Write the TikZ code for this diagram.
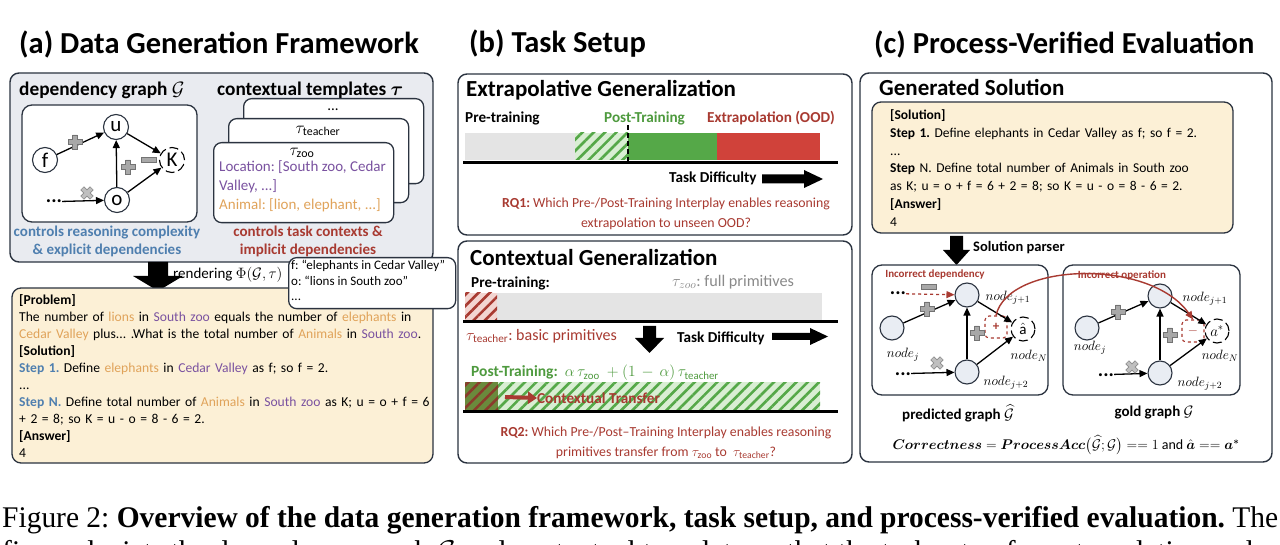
\RequirePackage{fix-cm}
\documentclass[tikz,border=0pt]{standalone}
\usepackage{amsmath,amssymb,bm}
\usepackage{fontspec}
\setmainfont{Carlito}
\newfontfamily\capfont{Liberation Serif}
\usetikzlibrary{arrows.meta,patterns.meta,calc}
\definecolor{frame}{HTML}{2B3340}
\definecolor{panelA}{HTML}{E9EBF0}
\definecolor{cream}{HTML}{FCF0D6}
\definecolor{stepblue}{HTML}{4F7FAF}
\definecolor{purp}{HTML}{7A52A0}
\definecolor{gold}{HTML}{E0A35A}
\definecolor{darkred}{HTML}{A83A31}
\definecolor{grn}{HTML}{55A848}
\definecolor{grntext}{HTML}{4E9A3E}
\definecolor{lightgrn}{HTML}{D9EED3}
\definecolor{barred}{HTML}{D0423A}
\definecolor{bargray}{HTML}{E4E4E4}
\definecolor{lightpink}{HTML}{F3D5D1}
\definecolor{darkolive}{HTML}{6A8A3C}
\definecolor{brownred}{HTML}{8A3B2B}
\definecolor{nodefill}{HTML}{E9EDF3}
\definecolor{signgray}{HTML}{A8A8A8}
\definecolor{graytext}{HTML}{8A8A8A}
\newcommand\fsz[2]{\fontsize{#1}{#2}\selectfont}
\newsavebox\capbox
\tikzset{
  panel/.style={draw=frame, line width=1.4pt, rounded corners=9pt},
  card/.style={draw=frame, fill=white, line width=1.3pt, rounded corners=8pt},
  gnode/.style={circle, draw=frame, line width=1.1pt, minimum size=25pt, inner sep=0pt, font=\fsz{21}{21}},
  cnode/.style={circle, draw=frame, fill=nodefill, line width=1.1pt, minimum size=24pt, inner sep=0pt},
  garrow/.style={-{Triangle[length=8pt,width=7pt]}, line width=1.3pt, black},
  ttl/.style={anchor=west, inner sep=0pt, font=\fsz{30.5}{33}\bfseries},
  sub/.style={anchor=west, inner sep=0pt, font=\fsz{23}{26}\bfseries},
  lbl/.style={inner sep=0pt, font=\fsz{15}{18}\bfseries},
  small/.style={anchor=west, inner sep=0pt, font=\fsz{15.2}{17}\bfseries},
  nlabel/.style={inner sep=0pt, font=\fsz{13.5}{13.5}},
  dots/.style={inner sep=0pt, font=\fsz{20}{20}\bfseries},
  rq/.style={align=center, inner sep=0pt, font=\fsz{13.8}{19.5}, text=darkred},
  opbox/.style={draw=darkred, dashed, line width=1.1pt, rounded corners=4pt, minimum width=22pt, minimum height=22pt, inner sep=0pt, text=darkred, font=\fsz{13}{13}\bfseries},
  plusmark/.pic={\filldraw[fill=signgray,draw=black!55,line width=0.7pt] (-7,-2.3) -- (-2.3,-2.3) -- (-2.3,-7) -- (2.3,-7) -- (2.3,-2.3) -- (7,-2.3) -- (7,2.3) -- (2.3,2.3) -- (2.3,7) -- (-2.3,7) -- (-2.3,2.3) -- (-7,2.3) -- cycle;},
  minusmark/.pic={\filldraw[fill=signgray,draw=black!55,line width=0.7pt] (-7.5,-2.6) rectangle (7.5,2.6);},
  crossmark/.pic={\filldraw[rotate=45,fill=black!25,draw=black!45,line width=0.6pt] (-6.5,-2.2) -- (-2.2,-2.2) -- (-2.2,-6.5) -- (2.2,-6.5) -- (2.2,-2.2) -- (6.5,-2.2) -- (6.5,2.2) -- (2.2,2.2) -- (2.2,6.5) -- (-2.2,6.5) -- (-2.2,2.2) -- (-6.5,2.2) -- cycle;},
}
\begin{document}
\frenchspacing
\sbox\capbox{\capfont\fsz{30}{34}Figure 2: \textbf{Overview of the data generation framework, task setup, and process-verified evaluation.} The}%
\pgfmathsetmacro\capsx{1276/\the\wd\capbox}%
\begin{tikzpicture}[x=1pt,y=-1pt]
\useasboundingbox (0,0) rectangle (1280,545);
\fill[white] (0,0) rectangle (1280,545);

% ---------------- titles
\node[ttl] (tA) at (19,44) {(a) Data Generation Framework};
\node[ttl] (tB) at (469,44) {(b) Task Setup};
\node[ttl] (tC) at (874,44) {(c) Process-Verified Evaluation};

% ================= PANEL A
\draw[panel, fill=panelA] (10,73) rectangle (433,262);
\node[anchor=west, inner sep=0pt, font=\fsz{19.3}{22}\bfseries] (dgT) at (19,90) {dependency graph $\mathcal{G}$};
\node[anchor=west, inner sep=0pt, font=\fsz{19.3}{22}\bfseries] (ctT) at (217,90) {contextual templates $\boldsymbol{\tau}$};
\draw[card, rounded corners=10pt] (22,105) rectangle (197,222);

\node[gnode] (f) at (45,160) {f};
\node[gnode] (u) at (116,127) {u};
\node[gnode, draw=none] (K) at (172,160) {K};
\draw[line width=1.1pt, dash pattern=on 9pt off 4pt] (K) circle (12.5pt);
\node[gnode] (o) at (117,200) {o};
\node[dots, anchor=base] (dA) at (54,203) {...};
\draw[garrow] (f) -- (u);
\draw[garrow] (u) -- (K);
\draw[garrow] (o) -- (u);
\draw[garrow] (o) -- (K);
\draw[garrow] (dA) -- (o);
\pic at (75,142) {plusmark};
\pic at (128,167) {plusmark};
\pic at (149,160) {minusmark};
\pic at (87,193) {crossmark};

% template cards
\node[card, anchor=north west, minimum width=180pt, minimum height=85pt] (card3) at (243,98) {};
\node[card, anchor=north west, minimum width=180pt, minimum height=84pt] (card2) at (228,118) {};
\node[card, anchor=north west, minimum width=180pt, minimum height=80pt] (card1) at (213,142) {};
\node[inner sep=0pt, font=\fsz{15}{15}] (c3t) at (333,110) {...};
\node[inner sep=0pt, font=\fsz{17}{17}] (c2t) at (318,131) {$\tau_{\mathrm{teacher}}$};
\node[inner sep=0pt, font=\fsz{17}{17}] (c1t) at (302,153) {$\tau_{\mathrm{zoo}}$};
\node[anchor=north west, inner sep=0pt, align=left, font=\fsz{15}{19}] (c1txt) at (219,160) {\textcolor{purp}{Location: [South zoo, Cedar}\\\textcolor{purp}{Valley, ...]}\\\textcolor{gold}{Animal: [lion, elephant, ...]}};

\node[lbl, text=stepblue, align=center] (ctrlA) at (107,241) {controls reasoning complexity\\\& explicit dependencies};
\node[lbl, text=darkred, align=center] (ctrlB) at (308,241) {controls task contexts \&\\implicit dependencies};

% render arrow
\fill[black] (148,262) -- (168,262) -- (168,276) -- (183,276) -- (158,291) -- (133,276) -- (148,276) -- cycle;
\node[anchor=west, inner sep=0pt, font=\fsz{15}{15}] (rend) at (173,275) {rendering $\Phi(\mathcal{G},\tau)$};

% problem box
\draw[draw=frame, fill=cream, line width=1.3pt, rounded corners=9pt] (12,288) rectangle (433,463);
\node[anchor=north west, inner sep=0pt, align=left, text width=420pt, font=\fsz{13.6}{17}] (probtxt) at (19,294) {%
\textbf{[Problem]}\\
The number of \textcolor{gold}{lions} in \textcolor{purp}{South zoo} equals the number of \textcolor{gold}{elephants} in\\
\textcolor{gold}{Cedar Valley} plus... .What is the total number of \textcolor{gold}{Animals} in \textcolor{purp}{South zoo}.\\
\textbf{[Solution]}\\
\textcolor{stepblue}{\textbf{Step 1.}} Define \textcolor{gold}{elephants} in \textcolor{purp}{Cedar Valley} as f; so f = 2.\\
...\\
\textcolor{stepblue}{\textbf{Step N.}} Define total number of \textcolor{gold}{Animals} in \textcolor{purp}{South zoo} as K; u = o + f = 6\\
+ 2 = 8; so K = u - o = 8 - 6 = 2.\\
\textbf{[Answer]}\\
4};

% mapping box
\node[card, anchor=north west, minimum width=167pt, minimum height=51pt] (mapbox) at (288,257) {};
\node[anchor=north west, inner sep=0pt, align=left, font=\fsz{13}{15.5}] (maptxt) at (291,260) {f: ``elephants in Cedar Valley''\\o: ``lions in South zoo''\\...};

% ================= PANEL B
\draw[panel] (458,74) rectangle (852,235);
\node[sub] (extT) at (466,90) {Extrapolative Generalization};
\node[small] (preT) at (465,118) {Pre-training};
\node[small, text=grntext] (postT) at (604,118) {Post-Training};
\node[small, anchor=east, text=darkred] (oodT) at (835,118) {Extrapolation (OOD)};
\fill[bargray] (465,133) rectangle (575,160);
\fill[lightgrn] (575,133) rectangle (628,160);
\fill[pattern={Lines[angle=45,distance=8pt,line width=2.6pt]}, pattern color=grn] (575,133) rectangle (628,160);
\fill[grn] (628,133) rectangle (717,160);
\fill[barred] (717,133) rectangle (820,160);
\draw[line width=2.6pt, dash pattern=on 5pt off 3pt] (628,125) -- (628,161);
\draw[line width=3pt] (463,163) -- (838,163);
\node[small] (td1) at (669,178) {Task Difficulty};
\fill[black] (762,174.5) -- (804,174.5) -- (804,170) -- (823,179) -- (804,188) -- (804,183.5) -- (762,183.5) -- cycle;
\node[rq] (rq1) at (666,214) {\textbf{RQ1:} Which Pre-/Post-Training Interplay enables reasoning\\extrapolation to unseen OOD?};

\draw[panel] (458,241) rectangle (852,463);
\node[sub] (ctxT) at (470,257) {Contextual Generalization};
\node[small] (preT2) at (471,283) {Pre-training:};
\node[anchor=west, inner sep=0pt, font=\fsz{16.2}{17}, text=graytext] (zooT) at (672,282) {$\tau_{zoo}$: full primitives};
\fill[bargray] (465,293) rectangle (822,320);
\fill[lightpink] (465,293) rectangle (497,320);
\fill[pattern={Lines[angle=45,distance=8pt,line width=2.6pt]}, pattern color=darkred] (465,293) rectangle (497,320);
\draw[line width=3pt] (463,322) -- (838,322);
\node[anchor=west, inner sep=0pt, font=\fsz{16}{17}, text=darkred] (teachT) at (466,336) {$\tau_{\mathrm{teacher}}$: basic primitives};
\fill[black] (643,326) -- (656,326) -- (656,338) -- (664,338) -- (649.5,353) -- (635,338) -- (643,338) -- cycle;
\node[small] (td2) at (677,338) {Task Difficulty};
\fill[black] (772,333) -- (810,333) -- (810,328) -- (828,336.5) -- (810,345) -- (810,340) -- (772,340) -- cycle;
\node[anchor=west, inner sep=0pt, font=\fsz{15.5}{17}, text=grntext] (postT2) at (471,373) {\textbf{Post-Training:} \ $\alpha\,\tau_{\mathrm{zoo}}\ +(1\,-\,\alpha)\,\tau_{\mathrm{teacher}}$};
\fill[lightgrn] (465,382) rectangle (820,410);
\fill[pattern={Lines[angle=45,distance=8pt,line width=2.6pt]}, pattern color=grn] (465,382) rectangle (820,410);
\fill[darkolive] (465,382) rectangle (498,410);
\fill[pattern={Lines[angle=45,distance=8pt,line width=2.6pt]}, pattern color=brownred] (465,382) rectangle (498,410);
\draw[line width=3pt] (463,411) -- (838,411);
\node[small, text=darkred] (ctr) at (537,398) {Contextual Transfer};
\coordinate (ctrS) at (505,397);
\draw[darkred, line width=4pt, -{Triangle[length=9pt,width=12pt]}] (ctrS) -- (ctr.west);
\node[rq] (rq2) at (666,443) {\textbf{RQ2:} Which Pre-/Post--Training Interplay enables reasoning\\primitives transfer from $\tau_{\mathrm{zoo}}$ to \ $\tau_{\mathrm{teacher}}$?};

% ================= PANEL C
\draw[panel] (860,73) rectangle (1272,462);
\node[sub] (genT) at (879,88) {Generated Solution};
\draw[draw=frame, fill=cream, line width=1.3pt, rounded corners=9pt] (872,102) rectangle (1233,233);
\node[anchor=north west, inner sep=0pt, align=left, text width=340pt, font=\fsz{13.5}{17.8}] (soltxt) at (890,109.5) {%
\textbf{[Solution]}\\
\textbf{Step 1.} Define elephants in Cedar Valley as f; so f = 2.\\
...\\
\textbf{Step} N. Define total number of Animals in South zoo\\
as K; u = o + f = 6 + 2 = 8; so K = u - o = 8 - 6 = 2.\\
\textbf{[Answer]}\\
4};
\fill[black] (950,236) -- (963,236) -- (963,250) -- (970,250) -- (956.5,265) -- (943,250) -- (950,250) -- cycle;
\node[anchor=west, inner sep=0pt, font=\fsz{14.5}{16}\bfseries] (parser) at (973,248) {Solution parser};

% predicted graph
\draw[card, rounded corners=10pt] (872,265) rectangle (1048,395);
\node[inner sep=0pt, font=\fsz{11}{12}\bfseries, text=darkred] (incD) at (935,275) {Incorrect dependency};
\node[cnode] (pT) at (967,295) {};
\node[cnode] (pL) at (892,328) {};
\node[cnode] (pB) at (967,372) {};
\node[cnode, fill=none, draw=none, font=\fsz{15}{15}] (pA) at (1023,329) {$\hat{\mathrm{a}}$};
\draw[line width=1.1pt, dash pattern=on 9pt off 4pt] (pA) circle (12pt);
\node[opbox] (opP) at (996,327) {+};
\node[dots, anchor=base] (pD1) at (898,295) {...};
\node[dots, anchor=base] (pD2) at (903,375) {...};
\draw[garrow, darkred, dashed] (pD1) -- (pT);
\draw[garrow] (pD2) -- (pB);
\draw[garrow] (pL) -- (pT);
\draw[garrow] (pB) -- (pT);
\draw[garrow] (pT) -- (pA);
\draw[garrow] (pB) -- (pA);
\pic at (929,287) {minusmark};
\pic at (927,309) {plusmark};
\pic at (977,333) {plusmark};
\pic at (937,363) {crossmark};
\node[nlabel] (lpj1) at (1008,298) {$node_{j+1}$};
\node[nlabel] (lpj) at (903,355) {$node_{j}$};
\node[nlabel] (lpN) at (1029,356) {$node_{N}$};
\node[nlabel] (lpj2) at (1006,383) {$node_{j+2}$};

% gold graph
\draw[card, rounded corners=10pt] (1063,265) rectangle (1240,395);
\node[inner sep=0pt, font=\fsz{11}{12}\bfseries, text=darkred] (incO) at (1122,275) {Incorrect operation};
\node[cnode] (gT) at (1160,296) {};
\node[cnode] (gL) at (1087,328) {};
\node[cnode] (gB) at (1160,373) {};
\node[cnode, fill=none, draw=none, font=\fsz{15}{15}] (gA) at (1217,331) {$a^{*}$};
\draw[line width=1.1pt, dash pattern=on 9pt off 4pt] (gA) circle (12pt);
\node[opbox] (opG) at (1193,331) {$-$};
\node[dots, anchor=base] (gD2) at (1106,376) {...};
\draw[garrow] (gD2) -- (gB);
\draw[garrow] (gL) -- (gT);
\draw[garrow] (gB) -- (gT);
\draw[garrow] (gT) -- (gA);
\draw[garrow] (gB) -- (gA);
\pic at (1118,312) {plusmark};
\pic at (1170,335) {plusmark};
\pic at (1132,367) {crossmark};
\node[nlabel] (lgj1) at (1205,299) {$node_{j+1}$};
\node[nlabel] (lgj) at (1090,348) {$node_{j}$};
\node[nlabel] (lgN) at (1220,356) {$node_{N}$};
\node[nlabel] (lgj2) at (1200,384) {$node_{j+2}$};

\draw[darkred, line width=1.4pt, -{Triangle[length=8pt,width=7pt]}] (opP.north) .. controls (1008,262) and (1150,258) .. (opG.north);

\node[inner sep=0pt, font=\fsz{15}{16}\bfseries] (predT) at (958,413) {predicted graph $\widehat{\mathcal{G}}$};
\node[inner sep=0pt, font=\fsz{15}{16}\bfseries] (goldT) at (1154,413) {gold graph $\mathcal{G}$};
\node[inner sep=0pt, font=\fsz{14}{15}] (corr) at (1066,445) {$\bm{Correctness} = \bm{ProcessAcc}\big(\widehat{\mathcal{G}};\mathcal{G}\big) == 1 \text{ and } \bm{\hat{a}} == \bm{a^{*}}$};

% ================= caption
\begin{scope}
\clip (0,0) rectangle (1280,545);
\node[anchor=base west, inner sep=0pt] (cap1) at (2,527) {\scalebox{\capsx}[1]{\usebox\capbox}};
\node[anchor=base west, inner sep=0pt] (cap2) at (2,561) {\scalebox{\capsx}[1]{\capfont\fsz{30}{34}figure depicts the dependency graph $\mathcal{G}$ and contextual templates $\tau$ that the task setup for extrapolation and contextual}};
\end{scope}
\end{tikzpicture}
\end{document}
